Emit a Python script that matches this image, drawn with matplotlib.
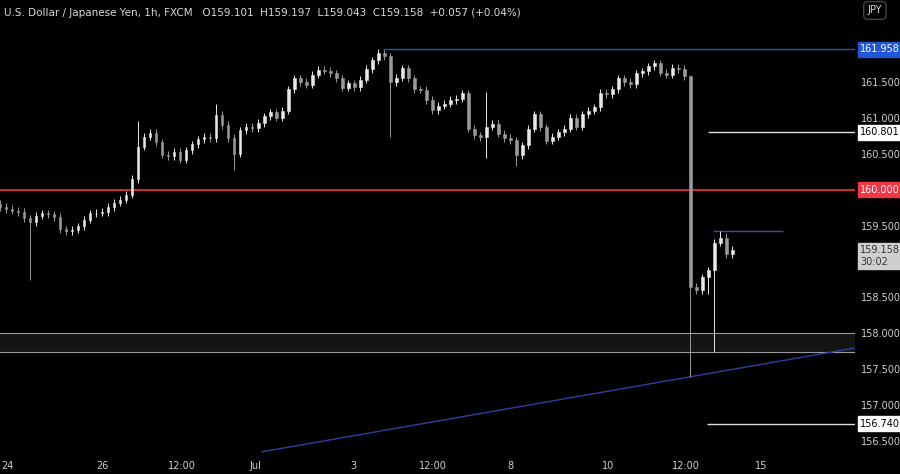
import matplotlib
matplotlib.use("Agg")
import matplotlib.pyplot as plt
from matplotlib.patches import Rectangle
import numpy as np

# 3-hour candle closes (USD/JPY)
closes = [159.76,159.73,159.71,159.69,159.60,159.55,159.64,159.67,159.66,159.62,159.45,159.42,159.44,159.49,159.58,
          159.67,159.68,159.69,159.76,159.82,159.86,159.93,160.15,160.60,160.74,160.79,160.66,160.49,160.47,160.53,
          160.42,160.55,160.63,160.70,160.74,160.72,161.04,160.90,160.72,160.50,160.83,160.88,160.86,160.93,161.02,
          161.08,161.00,161.10,161.40,161.55,161.50,161.46,161.60,161.67,161.66,161.62,161.55,161.42,161.48,161.43,
          161.53,161.68,161.80,161.90,161.86,161.50,161.56,161.69,161.55,161.40,161.39,161.25,161.11,161.17,161.20,
          161.25,161.27,161.34,160.85,160.76,160.73,160.88,160.92,160.78,160.72,160.69,160.48,160.62,160.85,161.05,
          160.87,160.68,160.74,160.80,160.85,161.00,160.88,161.05,161.10,161.15,161.35,161.33,161.40,161.55,161.50,
          161.47,161.62,161.65,161.72,161.76,161.63,161.60,161.70,161.68,161.58,158.65,158.60,158.78,158.88,159.26,
          159.33,159.10,159.16]
first_open = 159.80
wick = 0.05
high_override = {23: 160.95, 36: 161.20, 63: 161.958, 81: 161.36, 115: 161.58, 120: 159.43, 121: 159.40}
low_override = {5: 158.74, 39: 160.28, 65: 160.73, 81: 160.44, 86: 160.33, 115: 157.39, 119: 157.74, 118: 158.55}

xticks_pos = [3.5, 50, 89, 125, 173, 212, 250, 298, 336, 373]
xticks_lab = ["24", "26", "12:00", "Jul", "3", "12:00", "8", "10", "12:00", "15"]
yticks = [156.5, 157.0, 157.5, 158.0, 158.5, 159.5, 160.5, 161.0, 161.5]

BG = "#000000"
YMIN, YMAX = 156.305, 162.642
fig = plt.figure(figsize=(9, 4.74), dpi=100, facecolor=BG)
ax = fig.add_axes([0, (474 - 455) / 474, 855 / 900, 455 / 474], facecolor=BG)
ax.set_xlim(0, 419)
ax.set_ylim(YMIN, YMAX)

opens = [first_open] + closes[:-1]
for i, (o, c) in enumerate(zip(opens, closes)):
    x = i * 6 / 2.04
    hi = high_override.get(i, max(o, c) + wick)
    lo = low_override.get(i, min(o, c) - wick)
    col = "#e8e8e8" if c >= o else "#9a9a9a"
    ax.vlines(x, lo, hi, color=col, lw=0.7, zorder=3)
    ax.add_patch(Rectangle((x - 0.7, min(o, c)), 1.4, max(abs(c - o), 0.01),
                           facecolor=col, edgecolor=col, lw=0.4, zorder=4))

# levels
ax.axhline(160.0, color="#f23645", lw=1.2, zorder=2)
ax.hlines(161.958, 383 / 2.04, 419, color="#2f4fbf", lw=1, zorder=2)
ax.hlines(160.801, 708 / 2.04, 419, color="#e0e0e0", lw=1, zorder=2)
ax.hlines(156.740, 707 / 2.04, 419, color="#e0e0e0", lw=1, zorder=2)
ax.hlines(159.43, 713 / 2.04, 783 / 2.04, color="#2f4fbf", lw=1, zorder=2)
ax.axhspan(157.74, 158.0, color="#141414", zorder=1)
ax.axhline(158.0, color="#9a9a9a", lw=0.8, zorder=2)
ax.axhline(157.74, color="#9a9a9a", lw=0.8, zorder=2)
ax.plot([262 / 2.04, 419], [156.35, 157.796], color="#2f3fa0", lw=1, zorder=2)

ax.set_xticks(xticks_pos)
ax.set_xticklabels(xticks_lab)
ax.yaxis.tick_right()
ax.set_yticks(yticks)
ax.set_yticklabels([f"{v:.3f}" for v in yticks])
ax.tick_params(colors="#d0d0d0", labelsize=7, length=0, pad=4)
for s in ax.spines.values():
    s.set_visible(False)

def box(p, text, fc, tc):
    ax.text(1.006, (p - YMIN) / (YMAX - YMIN), text, transform=ax.transAxes,
            fontsize=7, color=tc, va="center", ha="left",
            bbox=dict(boxstyle="square,pad=0.25", fc=fc, ec=fc), clip_on=False)

box(161.958, "161.958", "#2356d6", "white")
box(160.801, "160.801", "white", "black")
box(160.0, "160.000", "#f23645", "white")
box(156.740, "156.740", "white", "black")
box(159.08, "159.158\n30:02", "#cfcfcf", "#333333")

fig.text(0.005, 0.972, "U.S. Dollar / Japanese Yen, 1h, FXCM   O159.101  H159.197  L159.043  C159.158  +0.057 (+0.04%)",
         color="#d8d8d8", fontsize=7.5, va="center")
fig.text(0.972, 0.978, "JPY", color="#d8d8d8", fontsize=7, ha="center", va="center",
         bbox=dict(boxstyle="round,pad=0.4", fc="#000", ec="#444"))

fig.savefig("out.png", dpi=100, facecolor=BG)
